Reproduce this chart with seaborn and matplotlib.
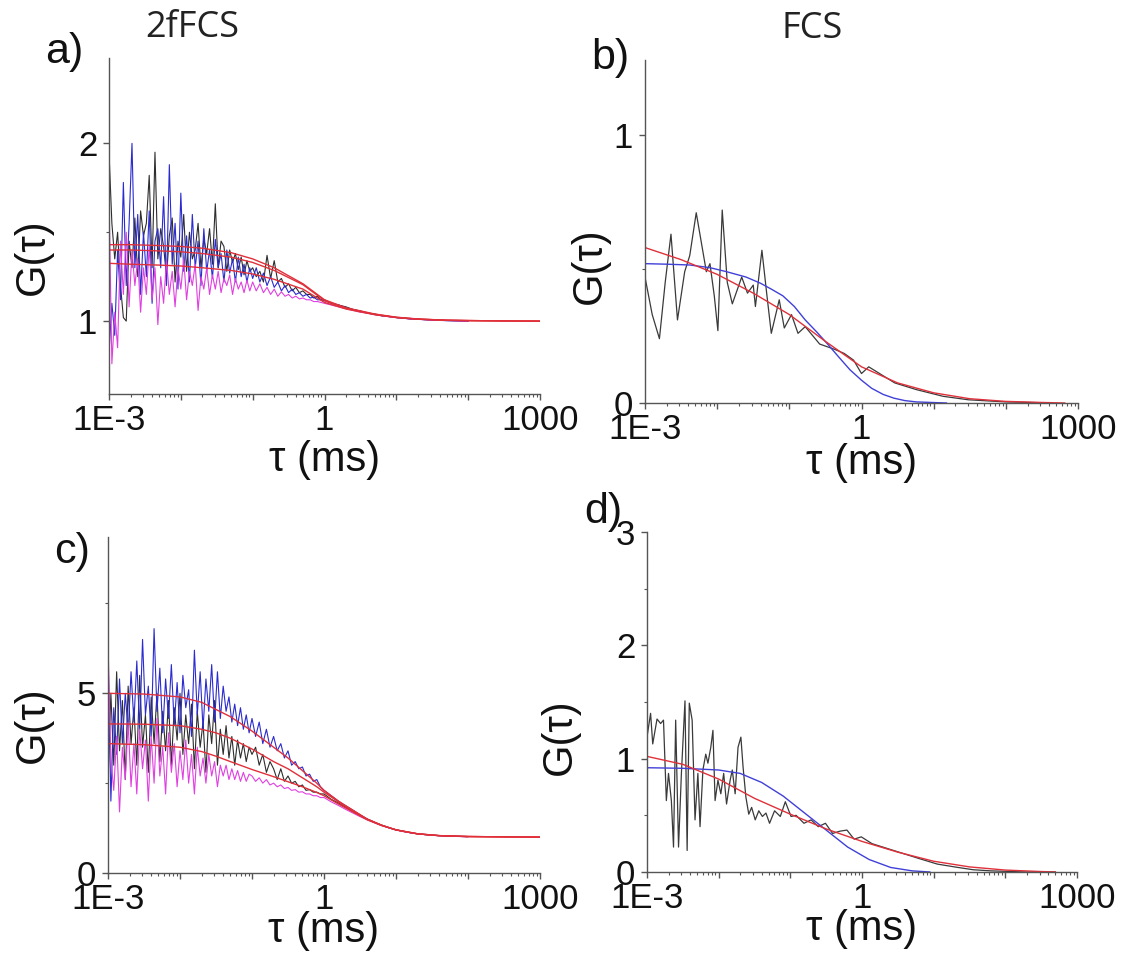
import numpy as np
import pandas as pd
import matplotlib
matplotlib.use("Agg")
import matplotlib.pyplot as plt
from matplotlib.ticker import MultipleLocator, FixedLocator, FixedFormatter, LogLocator, NullFormatter
import seaborn as sns

# ---------------- data (log10 tau in ms, G(tau)) ----------------
LOGTAU_2F = [-3.00, -2.96, -2.92, -2.88, -2.84, -2.80, -2.76, -2.72, -2.68, -2.64,
             -2.60, -2.56, -2.52, -2.48, -2.44, -2.40, -2.36, -2.32, -2.28, -2.24,
             -2.20, -2.16, -2.12, -2.08, -2.04, -2.00, -1.96, -1.92, -1.88, -1.84,
             -1.80, -1.76, -1.72, -1.68, -1.64, -1.60, -1.56, -1.52, -1.48, -1.44,
             -1.40, -1.36, -1.32, -1.28, -1.24, -1.20, -1.16, -1.12, -1.08, -1.04,
             -1.00, -0.95, -0.90, -0.85, -0.80, -0.75, -0.70, -0.65, -0.60, -0.55,
             -0.50, -0.45, -0.40, -0.35, -0.30, -0.25, -0.20, -0.15, -0.10, -0.05,
             0.0, 0.1, 0.2, 0.3, 0.4, 0.5, 0.6, 0.7, 0.8, 0.9,
             1.0, 1.1, 1.2, 1.3, 1.4, 1.5, 1.6, 1.7, 1.8, 1.9,
             2.0]

A_BLACK = [1.95, 1.55, 1.35, 1.50, 1.20, 1.02, 1.00, 1.45, 1.30, 1.58,
           1.25, 1.62, 1.48, 1.55, 1.82, 1.30, 1.95, 1.35, 1.52, 1.42,
           1.25, 1.48, 1.58, 1.22, 1.45, 1.36, 1.60, 1.28, 1.50, 1.35,
           1.40, 1.55, 1.30, 1.46, 1.38, 1.52, 1.32, 1.66, 1.30, 1.45,
           1.42, 1.28, 1.40, 1.33, 1.38, 1.29, 1.36, 1.26, 1.34, 1.28,
           1.30, 1.25, 1.28, 1.22, 1.37, 1.24, 1.34, 1.22, 1.24, 1.19,
           1.21, 1.17, 1.19, 1.16, 1.17, 1.15, 1.15, 1.13, 1.14, 1.12,
           1.12, 1.10, 1.09, 1.08, 1.065, 1.057, 1.045, 1.04, 1.03, 1.026,
           1.02, 1.017, 1.012, 1.011, 1.008, 1.006, 1.005, 1.003, 1.002, 1.001,
           1.0]
A_BLUE = [0.82, 1.10, 0.92, 1.40, 1.12, 1.78, 1.20, 1.55, 2.00, 1.30,
          1.60, 1.15, 1.50, 1.25, 1.62, 1.10, 1.45, 1.52, 1.30, 1.70,
          1.20, 1.88, 1.32, 1.55, 1.18, 1.72, 1.28, 1.48, 1.22, 1.60,
          1.30, 1.45, 1.20, 1.52, 1.28, 1.40, 1.24, 1.46, 1.30, 1.38,
          1.22, 1.40, 1.27, 1.35, 1.22, 1.36, 1.25, 1.32, 1.22, 1.30,
          1.24, 1.30, 1.22, 1.27, 1.20, 1.25, 1.19, 1.22, 1.17, 1.20,
          1.16, 1.18, 1.15, 1.16, 1.14, 1.15, 1.13, 1.135, 1.12, 1.12,
          1.115, 1.10, 1.09, 1.075, 1.065, 1.055, 1.045, 1.037, 1.03, 1.025,
          1.02, 1.016, 1.012, 1.01, 1.008, 1.006, 1.004, 1.003, 1.002, 1.001,
          1.0]
A_MAGENTA = [1.70, 0.76, 1.05, 0.85, 1.45, 1.15, 1.50, 1.08, 1.40, 1.20,
             1.35, 1.05, 1.30, 1.15, 1.42, 1.12, 1.30, 0.98, 1.25, 1.10,
             1.34, 1.15, 1.28, 1.08, 1.30, 1.18, 1.35, 1.12, 1.28, 1.20,
             1.32, 1.06, 1.25, 1.18, 1.30, 1.15, 1.26, 1.18, 1.28, 1.16,
             1.24, 1.20, 1.26, 1.15, 1.24, 1.18, 1.22, 1.16, 1.23, 1.17,
             1.22, 1.17, 1.21, 1.16, 1.19, 1.15, 1.18, 1.14, 1.165, 1.14,
             1.15, 1.13, 1.14, 1.125, 1.13, 1.12, 1.12, 1.11, 1.11, 1.105,
             1.10, 1.09, 1.08, 1.07, 1.06, 1.05, 1.045, 1.037, 1.03, 1.025,
             1.02, 1.016, 1.012, 1.01, 1.008, 1.006, 1.004, 1.003, 1.002, 1.001,
             1.0]

A_FIT_LOGTAU = [-3, -2.7, -2.3, -2, -1.7, -1.3, -1, -0.7, -0.3, 0, 0.3, 0.7, 1, 1.3, 1.7, 2, 2.5, 3]
A_FIT_TOP = [1.43, 1.43, 1.425, 1.42, 1.41, 1.385, 1.35, 1.30, 1.21, 1.12, 1.075, 1.04, 1.022, 1.012, 1.005, 1.003, 1.001, 1.0]
A_FIT_MID = [1.40, 1.40, 1.395, 1.39, 1.38, 1.36, 1.33, 1.285, 1.205, 1.115, 1.072, 1.038, 1.021, 1.011, 1.005, 1.003, 1.001, 1.0]
A_FIT_LOW = [1.325, 1.32, 1.315, 1.31, 1.30, 1.285, 1.265, 1.235, 1.18, 1.105, 1.068, 1.036, 1.02, 1.011, 1.005, 1.003, 1.001, 1.0]

C_BLUE = [6.2, 2.0, 4.6, 3.3, 5.4, 3.6, 5.0, 3.9, 5.6, 4.2,
          5.9, 4.0, 6.5, 4.4, 5.2, 3.8, 6.8, 4.5, 5.7, 3.9,
          5.4, 4.3, 5.8, 4.1, 5.3, 3.9, 5.5, 4.6, 5.1, 3.8,
          6.2, 4.4, 5.6, 4.0, 5.4, 4.5, 5.8, 4.2, 5.6, 4.3,
          5.2, 4.5, 4.9, 4.2, 4.7, 4.1, 4.6, 4.0, 4.4, 3.9,
          4.3, 3.8, 4.2, 3.6, 4.0, 3.5, 3.8, 3.4, 3.6, 3.2,
          3.4, 3.0, 3.1, 2.9, 2.95, 2.7, 2.75, 2.55, 2.6, 2.4,
          2.3, 2.15, 2.0, 1.87, 1.75, 1.62, 1.5, 1.41, 1.33, 1.26,
          1.2, 1.16, 1.12, 1.09, 1.07, 1.05, 1.04, 1.03, 1.02, 1.018,
          1.015]
C_BLACK = [2.5, 5.0, 3.0, 5.6, 3.4, 4.8, 2.6, 5.2, 3.6, 4.6,
           3.0, 5.5, 3.5, 4.4, 2.8, 4.9, 3.6, 5.0, 3.1, 4.5,
           3.4, 4.8, 3.0, 4.6, 3.7, 5.0, 3.3, 4.4, 3.6, 4.7,
           2.9, 4.5, 3.5, 4.2, 2.8, 4.4, 3.6, 4.8, 3.0, 4.0,
           3.3, 4.1, 3.2, 3.8, 3.0, 3.7, 3.2, 3.6, 3.1, 3.5,
           3.3, 3.5, 3.0, 3.3, 2.8, 3.1, 2.9, 2.6, 2.9, 2.55,
           2.7, 2.5, 2.55, 2.4, 2.45, 2.3, 2.32, 2.25, 2.25, 2.2,
           2.2, 2.05, 1.95, 1.83, 1.72, 1.6, 1.5, 1.41, 1.33, 1.26,
           1.2, 1.16, 1.12, 1.09, 1.07, 1.05, 1.04, 1.03, 1.02, 1.015,
           1.01]
C_MAGENTA = [6.4, 3.2, 2.3, 3.8, 1.7, 3.5, 2.6, 4.2, 2.4, 3.6,
             2.2, 4.0, 2.9, 3.7, 2.0, 3.8, 2.5, 4.3, 2.7, 3.5,
             2.2, 3.9, 2.8, 3.6, 2.4, 3.4, 2.6, 3.7, 2.5, 3.3,
             2.2, 3.5, 2.7, 3.2, 2.5, 3.3, 2.7, 3.1, 2.4, 3.0,
             2.7, 3.0, 2.6, 2.9, 2.6, 2.85, 2.55, 2.8, 2.55, 2.75,
             2.7, 2.55, 2.65, 2.5, 2.6, 2.45, 2.5, 2.4, 2.45, 2.35,
             2.38, 2.3, 2.32, 2.25, 2.26, 2.2, 2.2, 2.15, 2.15, 2.1,
             2.1, 1.98, 1.88, 1.77, 1.67, 1.57, 1.48, 1.4, 1.32, 1.26,
             1.2, 1.15, 1.12, 1.09, 1.07, 1.05, 1.04, 1.03, 1.02, 1.015,
             1.01]

C_FIT_LOGTAU = [-3, -2.5, -2, -1.7, -1.5, -1.3, -1.0, -0.7, -0.5, -0.3, -0.1, 0.0, 0.2, 0.4, 0.6, 0.8, 1.0, 1.3, 1.6, 2.0, 2.5, 3.0]
C_FIT_TOP = [5.0, 4.98, 4.9, 4.75, 4.55, 4.35, 3.95, 3.5, 3.2, 2.85, 2.5, 2.3, 2.0, 1.75, 1.5, 1.33, 1.2, 1.09, 1.04, 1.015, 1.005, 1.0]
C_FIT_MID = [4.15, 4.14, 4.1, 4.0, 3.9, 3.75, 3.45, 3.1, 2.9, 2.65, 2.4, 2.25, 1.98, 1.73, 1.5, 1.33, 1.2, 1.09, 1.04, 1.015, 1.005, 1.0]
C_FIT_LOW = [3.6, 3.57, 3.5, 3.38, 3.25, 3.1, 2.88, 2.68, 2.54, 2.4, 2.24, 2.15, 1.92, 1.7, 1.48, 1.32, 1.2, 1.09, 1.04, 1.015, 1.005, 1.0]

B_LOGTAU = [-3.00, -2.90, -2.80, -2.72, -2.64, -2.55, -2.45, -2.38, -2.29, -2.22,
            -2.15, -2.10, -2.04, -1.99, -1.93, -1.86, -1.79, -1.66, -1.58, -1.50,
            -1.47, -1.38, -1.31, -1.25, -1.14, -1.07, -0.97, -0.88, -0.78, -0.58,
            -0.37, -0.24, -0.11, 0.00, 0.10, 0.31, 0.46, 0.76, 1.13, 1.48,
            2.00, 2.50]
B_DATA = [0.47, 0.33, 0.24, 0.45, 0.63, 0.31, 0.49, 0.55, 0.71, 0.60,
          0.49, 0.52, 0.40, 0.27, 0.72, 0.45, 0.37, 0.47, 0.41, 0.44,
          0.36, 0.57, 0.40, 0.26, 0.385, 0.28, 0.33, 0.26, 0.285, 0.22,
          0.20, 0.185, 0.16, 0.11, 0.135, 0.10, 0.075, 0.05, 0.025, 0.012,
          0.004, 0.001]
B_RED_LOGTAU = [-3, -2.5, -2, -1.5, -1, -0.5, 0, 0.5, 1, 1.5, 2, 2.5, 2.82]
B_RED = [0.58, 0.535, 0.48, 0.41, 0.33, 0.23, 0.135, 0.075, 0.038, 0.016, 0.006, 0.002, 0.0]
B_BLUE_LOGTAU = [-3, -2.7, -2.38, -2.1, -1.87, -1.6, -1.4, -1.25, -1.09, -0.93,
                 -0.78, -0.62, -0.47, -0.31, -0.16, 0.0, 0.14, 0.3, 0.45, 0.6,
                 0.76, 1.18]
B_BLUE = [0.52, 0.518, 0.515, 0.505, 0.49, 0.47, 0.447, 0.425, 0.40, 0.36,
          0.31, 0.265, 0.22, 0.17, 0.124, 0.085, 0.055, 0.032, 0.018, 0.009,
          0.004, 0.0]

D_LOGTAU = [-3.00, -2.95, -2.92, -2.86, -2.81, -2.77, -2.73, -2.70, -2.66, -2.63,
            -2.60, -2.56, -2.52, -2.47, -2.44, -2.41, -2.37, -2.33, -2.29, -2.26,
            -2.22, -2.18, -2.15, -2.11, -2.08, -2.05, -2.01, -1.97, -1.93, -1.89,
            -1.84, -1.81, -1.77, -1.73, -1.69, -1.66, -1.62, -1.58, -1.54, -1.49,
            -1.44, -1.39, -1.34, -1.29, -1.22, -1.14, -1.07, -0.99, -0.92, -0.81,
            -0.71, -0.61, -0.51, -0.41, -0.31, -0.21, -0.11, -0.01, 0.14, 0.29,
            0.44, 0.59, 0.79, 1.05, 1.30, 1.55, 1.80, 2.30, 2.70]
D_DATA = [1.19, 1.40, 1.13, 1.35, 1.31, 1.34, 0.63, 0.87, 0.63, 0.22,
          1.34, 0.22, 0.87, 1.51, 0.19, 1.49, 1.34, 0.46, 0.87, 0.40,
          0.90, 1.04, 0.96, 1.10, 1.25, 0.63, 0.81, 0.69, 0.87, 0.60,
          0.81, 0.90, 0.69, 1.10, 1.19, 0.93, 0.66, 0.51, 0.57, 0.46,
          0.54, 0.49, 0.52, 0.43, 0.54, 0.49, 0.62, 0.49, 0.50, 0.43,
          0.46, 0.40, 0.43, 0.34, 0.36, 0.37, 0.29, 0.31, 0.25, 0.22,
          0.19, 0.16, 0.12, 0.07, 0.044, 0.02, 0.01, 0.0, 0.0]
D_RED_LOGTAU = [-3, -2.5, -2, -1.5, -1, -0.5, 0, 0.5, 1, 1.5, 2, 2.5, 2.7]
D_RED = [1.02, 0.95, 0.82, 0.65, 0.51, 0.38, 0.27, 0.175, 0.095, 0.045, 0.017, 0.004, 0.0]
D_BLUE_LOGTAU = [-3, -2.5, -2, -1.7, -1.4, -1.1, -0.8, -0.5, -0.2, 0.1, 0.4, 0.7, 0.95]
D_BLUE = [0.92, 0.915, 0.90, 0.87, 0.79, 0.67, 0.52, 0.37, 0.22, 0.11, 0.04, 0.01, 0.0]

X_TICK_LABELS = ["1E-3", "", "", "1", "", "", "1000"]
PANEL_LETTERS = ["a)", "b)", "c)", "d)"]
TITLES = ["2fFCS", "FCS"]

# ---------------- styling ----------------
sns.set_theme(style="ticks")
plt.rcParams["font.family"] = ["Liberation Sans", "DejaVu Sans"]

C_BLACK_LINE = "#2e2e2e"
C_BLUE_LINE = "#2b2bd0"
C_MAG_LINE = "#e040e0"
C_RED_LINE = "#e0303a"
C_BLUEFIT = "#4040d8"
SPINE = "#555555"

W, H = 1145, 956
fig = plt.figure(figsize=(W / 100, H / 100), dpi=100)


def box(l, r, t, b):
    return [l / W, 1 - b / H, (r - l) / W, (b - t) / H]


axA = fig.add_axes(box(109, 540, 58, 394))
axB = fig.add_axes(box(645, 1078, 60, 403))
axC = fig.add_axes(box(108, 540, 537, 873))
axD = fig.add_axes(box(647, 1077, 532, 872))


def tau(logs):
    return np.power(10.0, np.asarray(logs, dtype=float))


def line(ax, logs, vals, color, lw):
    df = pd.DataFrame({"tau": tau(logs), "G": vals})
    sns.lineplot(data=df, x="tau", y="G", ax=ax, color=color, linewidth=lw,
                 estimator=None, sort=False, legend=False)


# panel a
line(axA, LOGTAU_2F, A_BLACK, C_BLACK_LINE, 0.8)
line(axA, LOGTAU_2F, A_BLUE, C_BLUE_LINE, 0.8)
line(axA, LOGTAU_2F, A_MAGENTA, C_MAG_LINE, 0.8)
for fit in (A_FIT_TOP, A_FIT_MID, A_FIT_LOW):
    line(axA, A_FIT_LOGTAU, fit, C_RED_LINE, 1.0)

# panel b
line(axB, B_LOGTAU, B_DATA, "#3a3a3a", 0.9)
line(axB, B_BLUE_LOGTAU, B_BLUE, C_BLUEFIT, 1.0)
line(axB, B_RED_LOGTAU, B_RED, C_RED_LINE, 1.0)

# panel c
line(axC, LOGTAU_2F, C_BLACK, C_BLACK_LINE, 0.8)
line(axC, LOGTAU_2F, C_BLUE, C_BLUE_LINE, 0.8)
line(axC, LOGTAU_2F, C_MAGENTA, C_MAG_LINE, 0.8)
for fit in (C_FIT_TOP, C_FIT_MID, C_FIT_LOW):
    line(axC, C_FIT_LOGTAU, fit, C_RED_LINE, 1.0)

# panel d
line(axD, D_LOGTAU, D_DATA, "#3a3a3a", 0.9)
line(axD, D_BLUE_LOGTAU, D_BLUE, C_BLUEFIT, 1.0)
line(axD, D_RED_LOGTAU, D_RED, C_RED_LINE, 1.0)

ylims = [(0.59, 2.48), (0.0, 1.28), (0.0, 9.35), (0.0, 3.0)]
ymaj = [1.0, 1.0, 5.0, 1.0]
ymin = [0.5, 0.5, 2.5, 0.5]
ylab_xy = [(-0.176, 0.41), (-0.127, 0.40), (-0.174, 0.44), (-0.202, 0.397)]
xlab_y = [-0.195, -0.175, -0.172, -0.168]

for i, ax in enumerate([axA, axB, axC, axD]):
    ax.set_xscale("log")
    ax.set_xlim(1e-3, 1e3)
    ax.set_ylim(*ylims[i])
    ax.xaxis.set_major_locator(FixedLocator([1e-3, 1e-2, 1e-1, 1, 10, 100, 1000]))
    ax.xaxis.set_major_formatter(FixedFormatter(X_TICK_LABELS))
    ax.xaxis.set_minor_locator(LogLocator(base=10, subs=np.arange(2, 10), numticks=20))
    ax.xaxis.set_minor_formatter(NullFormatter())
    ax.yaxis.set_major_locator(MultipleLocator(ymaj[i]))
    ax.yaxis.set_minor_locator(MultipleLocator(ymin[i]))
    for s in ("top", "right"):
        ax.spines[s].set_visible(False)
    for s in ("left", "bottom"):
        ax.spines[s].set_color(SPINE)
        ax.spines[s].set_linewidth(1.0)
    ax.tick_params(axis="both", which="major", direction="out", length=4.5, width=1.0,
                   color=SPINE, labelsize=25, labelcolor="#111111")
    ax.tick_params(axis="both", which="minor", direction="out", length=2.5, width=0.8, color=SPINE)
    ax.tick_params(axis="x", which="major", pad=3)
    ax.tick_params(axis="y", which="major", pad=4)
    ax.set_xlabel("τ (ms)", fontsize=30, color="#111111")
    ax.set_ylabel("G(τ)", fontsize=30, color="#111111")
    ax.xaxis.set_label_coords(0.5, xlab_y[i])
    ax.xaxis.label.set_verticalalignment("center")
    ax.yaxis.set_label_coords(*ylab_xy[i])
    ax.yaxis.label.set_verticalalignment("center")
    ax.set_facecolor("white")

letter_pos = [(64, 52), (610, 58), (72, 552), (603, 512)]
for (px, py), t in zip(letter_pos, PANEL_LETTERS):
    fig.text(px / W, 1 - py / H, t, fontsize=31, ha="center", va="center", color="#111111")

title_pos = [(192, 28), (812, 29)]
for (px, py), t in zip(title_pos, TITLES):
    fig.text(px / W, 1 - py / H, t, fontsize=26, ha="center", va="center",
             family=["Open Sans", "DejaVu Sans"], color="#222222")

fig.savefig("out.png", dpi=100, facecolor="white")
